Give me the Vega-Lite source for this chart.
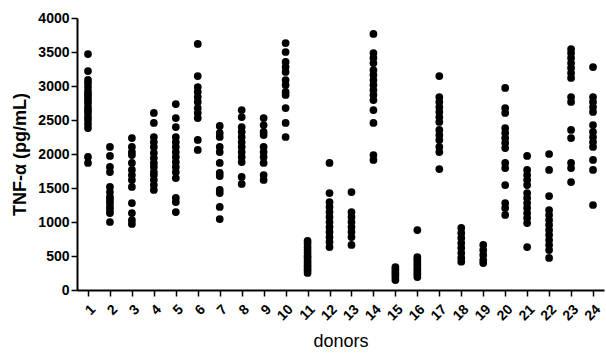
{
  "$schema": "https://vega.github.io/schema/vega-lite/v6.json",
  "autosize": "none",
  "padding": {"left": 77, "top": 18, "right": 2, "bottom": 64},
  "width": 527,
  "height": 272,
  "background": "white",
  "config": {"view": {"stroke": null}},
  "datasets": {
    "raw": [
      {"d":1,"v":[3470,3220,3090,3044,2985,2926,2880,2838,2794,2750,2691,2647,2603,2544,2500,2440,2382,1956,1868]},
      {"d":2,"v":[2103,1971,1809,1735,1515,1441,1368,1324,1279,1221,1176,1132,1000]},
      {"d":3,"v":[2235,2103,2029,1985,1868,1765,1691,1618,1515,1279,1132,1029,971]},
      {"d":4,"v":[2603,2456,2250,2176,2103,2015,1941,1868,1809,1735,1691,1618,1544,1471]},
      {"d":5,"v":[2735,2529,2397,2250,2176,2103,2029,1956,1882,1809,1735,1647,1353,1294,1147]},
      {"d":6,"v":[3618,3147,2985,2912,2838,2765,2676,2603,2529,2206,2059]},
      {"d":7,"v":[2412,2309,2250,2103,2029,1868,1721,1676,1471,1426,1221,1044]},
      {"d":8,"v":[2647,2544,2397,2324,2250,2176,2103,2029,1956,1882,1662,1559]},
      {"d":9,"v":[2529,2426,2324,2279,2103,2029,1956,1868,1691,1618]},
      {"d":10,"v":[3632,3500,3353,3279,3206,3088,3015,2912,2868,2676,2456,2250]},
      {"d":11,"v":[721,680,632,588,544,500,471,430,397,360,324,290,250]},
      {"d":12,"v":[1868,1426,1294,1221,1147,1074,1000,926,853,779,706,632]},
      {"d":13,"v":[1441,1147,1074,1000,926,853,779,662]},
      {"d":14,"v":[3765,3485,3412,3338,3235,3162,3088,3015,2941,2868,2794,2647,2456,1985,1912]},
      {"d":15,"v":[338,300,265,230,191,147]},
      {"d":16,"v":[882,485,450,412,375,338,300,265,230,191]},
      {"d":17,"v":[3147,2838,2765,2691,2618,2544,2471,2353,2279,2206,2103,2029,1779]},
      {"d":18,"v":[912,838,765,691,618,544,471,416]},
      {"d":19,"v":[662,588,515,441,397]},
      {"d":20,"v":[2971,2676,2603,2382,2309,2235,2162,2088,1868,1794,1544,1279,1206,1103]},
      {"d":21,"v":[1971,1765,1691,1618,1544,1426,1353,1279,1206,1132,1059,985,632]},
      {"d":22,"v":[2000,1765,1382,1176,1103,1029,956,882,809,735,662,588,471]},
      {"d":23,"v":[3544,3485,3412,3338,3265,3191,3118,2838,2765,2353,2235,1868,1794,1588]},
      {"d":24,"v":[3279,2838,2765,2691,2618,2426,2324,2250,2176,2103,1912,1765,1250]}
    ]
  },
  "data": {"name": "raw"},
  "transform": [{"flatten": ["v"]}],
  "mark": {"type": "circle", "size": 60, "opacity": 1, "color": "black"},
  "encoding": {
    "x": {
      "field": "d", "type": "ordinal",
      "scale": {"type": "point", "padding": 0.5},
      "axis": {
        "title": "donors", "titleFont": "Liberation Sans", "titleFontSize": 18, "titleFontWeight": "normal", "titleColor": "black", "titlePadding": 10,
        "labelAngle": -45, "labelFont": "Liberation Sans", "labelFontSize": 14, "labelFontWeight": "bold", "labelColor": "black", "labelPadding": 6,
        "domainColor": "black", "domainWidth": 2, "tickColor": "black", "tickWidth": 1.5, "tickSize": 6, "grid": false
      }
    },
    "y": {
      "field": "v", "type": "quantitative",
      "scale": {"domain": [0, 4000], "nice": false},
      "axis": {
        "title": "TNF-α (pg/mL)", "titleFont": "Liberation Sans", "titleFontSize": 18, "titleFontWeight": "bold", "titleColor": "black", "titlePadding": 8,
        "values": [0,500,1000,1500,2000,2500,3000,3500,4000], "format": "d",
        "labelFont": "Liberation Sans", "labelFontSize": 14, "labelFontWeight": "bold", "labelColor": "black", "labelPadding": 2,
        "domainColor": "black", "domainWidth": 2, "tickColor": "black", "tickWidth": 1.5, "tickSize": 6, "grid": false
      }
    }
  }
}
